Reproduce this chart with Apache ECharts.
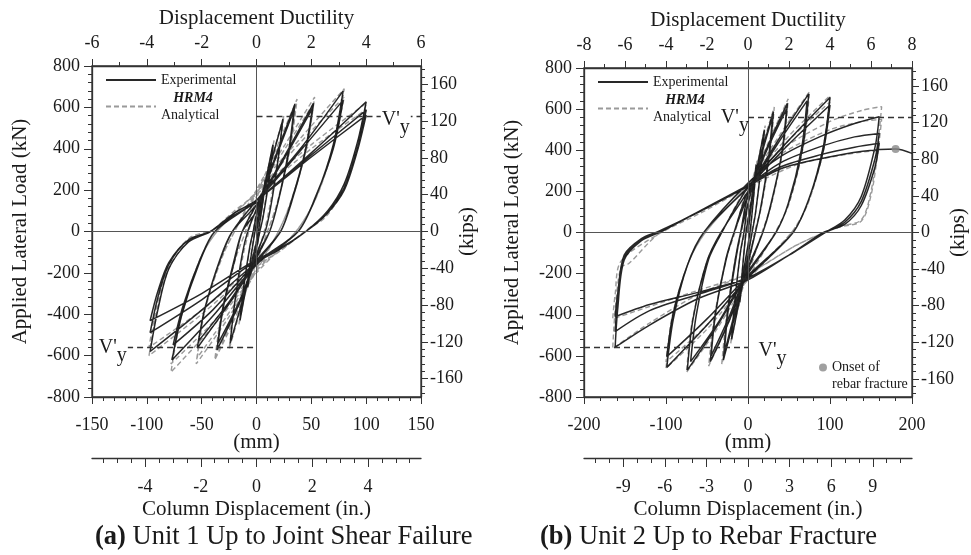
<!DOCTYPE html>
<html>
<head>
<meta charset="utf-8">
<script src="https://cdn.jsdelivr.net/npm/echarts@6/dist/echarts.min.js"></script>
<style>
  html, body { margin: 0; padding: 0; background: #fff; }
  #main { width: 971px; height: 555px; }
</style>
</head>
<body>
<div id="main"></div>
<script>
// ---- data (mm, kN) ----
// Unit 1, experimental
var u1ExpSmall = [[0,0],[4,120],[8,250],[6,150],[2,10],[0,-50],[-4,-140],[-8,-270],[-6,-160],[-2,-20],[0,40],[7,210],[15,420],[12,270],[6,70],[3,0],[0,-80],[-7,-210],[-15,-430],[-12,-280],[-6,-70],[-3,0],[0,80],[12,310],[24,540],[20,360],[13,120],[8,0],[0,-110],[-12,-320],[-24,-540],[-20,-350],[-13,-110],[-8,0]];
var u1ExpMu15 = [[0,110],[15,330],[35,615],[30,400],[20,150],[12,0],[0,-130],[-15,-340],[-36,-572],[-31,-380],[-20,-130],[-13,0],[0,100],[15,320],[34,585],[29,380],[19,130],[12,0],[0,-120],[-15,-330],[-35,-540],[-30,-360],[-19,-120],[-13,0]];
var u1ExpMu2 = [[0,130],[25,360],[52,620],[45,400],[33,160],[22,0],[0,-150],[-25,-350],[-54,-563],[-47,-370],[-33,-130],[-22,0],[0,130],[25,350],[51,595],[44,380],[32,150],[22,0],[0,-140],[-25,-340],[-53,-530],[-46,-350],[-32,-120],[-22,0]];
var u1ExpMu3 = [[0,150],[40,400],[79,680],[70,420],[55,180],[38,0],[0,-160],[-40,-410],[-77,-621],[-68,-400],[-52,-150],[-38,0],[0,150],[40,390],[79,635],[70,400],[54,170],[38,0],[0,-150],[-40,-380],[-76,-548],[-67,-360],[-51,-130],[-38,0]];
var u1ExpMu4 = [[0,150],[50,380],[100,627],[92,430],[80,230],[65,100],[45,0],[20,-90],[0,-150],[-50,-380],[-97,-580],[-90,-380],[-80,-180],[-62,-50],[-42,0],[-20,90],[0,150],[50,370],[100,587],[92,400],[80,210],[64,90],[45,0],[20,-90],[0,-140],[-50,-330],[-97,-489],[-90,-320],[-80,-160],[-62,-40],[-42,0],[-20,90],[0,150],[50,360],[100,563],[92,390],[80,200],[64,85],[45,0],[20,-85],[0,-135],[-50,-300],[-97,-431],[-90,-290],[-80,-150],[-62,-40],[-42,0],[-20,80],[0,140]];
// Unit 1, HRM4 analytical
var u1AnaSmall = [[0,0],[5,150],[9,270],[6,150],[2,20],[0,-40],[-5,-150],[-9,-280],[-6,-150],[-2,-10],[0,50],[8,240],[16,440],[12,280],[6,80],[3,0],[0,-90],[-8,-240],[-16,-450],[-12,-280],[-6,-80],[-3,0],[0,100],[13,340],[25,560],[20,370],[12,120],[7,0],[0,-120],[-13,-350],[-25,-570],[-20,-360],[-12,-110],[-7,0]];
var u1AnaMu15 = [[0,170],[18,400],[37,640],[31,410],[19,140],[10,0],[0,-150],[-18,-400],[-38,-620],[-32,-400],[-19,-130],[-10,0],[0,160],[18,380],[36,610],[30,390],[18,120],[10,0],[0,-140],[-18,-380],[-37,-600],[-31,-380],[-18,-110],[-10,0]];
var u1AnaMu2 = [[0,200],[26,420],[53,650],[46,410],[32,150],[20,0],[0,-190],[-26,-420],[-55,-640],[-48,-400],[-32,-130],[-20,0],[0,190],[26,400],[52,620],[45,390],[31,140],[20,0],[0,-180],[-26,-400],[-54,-610],[-47,-380],[-31,-120],[-20,0]];
var u1AnaMu3 = [[0,200],[40,450],[80,690],[71,430],[55,170],[36,0],[0,-200],[-40,-460],[-78,-680],[-69,-420],[-52,-140],[-36,0],[0,190],[40,430],[80,650],[70,410],[54,160],[36,0],[0,-190],[-40,-440],[-78,-640],[-68,-400],[-51,-130],[-36,0]];
var u1AnaMu4 = [[0,190],[50,420],[100,620],[92,420],[79,210],[63,80],[44,0],[20,-100],[0,-170],[-50,-400],[-98,-600],[-91,-390],[-80,-180],[-61,-40],[-42,0],[-20,100],[0,180],[50,400],[100,590],[92,400],[79,200],[63,70],[44,0],[20,-100],[0,-160],[-50,-380],[-98,-560],[-91,-360],[-80,-160],[-61,-30],[-42,0]];

// Unit 2, experimental
var u2ExpSmall = [[0,0],[5,170],[10,330],[7,180],[3,20],[0,-60],[-5,-180],[-10,-340],[-7,-190],[-3,-20],[0,60],[10,290],[20,500],[16,320],[9,90],[5,0],[0,-110],[-10,-320],[-20,-520],[-16,-330],[-9,-90],[-5,0]];
var u2ExpMu1 = [[0,140],[15,370],[31,588],[26,380],[16,130],[9,0],[0,-150],[-15,-390],[-30,-620],[-25,-390],[-15,-120],[-9,0],[0,140],[15,360],[30,565],[25,360],[15,110],[9,0],[0,-140],[-15,-370],[-29,-590],[-24,-370],[-14,-110],[-9,0]];
var u2ExpMu2 = [[0,180],[24,420],[48,628],[42,400],[28,140],[18,0],[0,-180],[-22,-420],[-46,-628],[-40,-400],[-27,-130],[-17,0],[0,180],[24,410],[47,600],[41,380],[27,120],[18,0],[0,-170],[-22,-400],[-45,-600],[-39,-380],[-26,-120],[-17,0]];
var u2ExpMu3 = [[0,200],[37,450],[74,674],[67,420],[50,150],[34,0],[0,-200],[-37,-450],[-74,-669],[-67,-420],[-50,-140],[-33,0],[0,200],[36,430],[72,640],[65,400],[49,140],[34,0],[0,-190],[-35,-430],[-70,-628],[-63,-400],[-48,-130],[-32,0]];
var u2ExpMu4 = [[0,220],[50,450],[100,657],[92,420],[75,170],[55,0],[0,-220],[-50,-450],[-99,-656],[-91,-420],[-74,-160],[-54,0],[0,220],[50,430],[100,620],[92,400],[74,160],[55,0],[0,-210],[-50,-420],[-99,-604],[-91,-390],[-73,-150],[-54,0]];
var u2ExpMu6 = [[0,240],[40,370],[90,470],[130,530],[160,563],[155,417],[138,174],[118,61],[94,0],[50,-110],[0,-230],[-60,-320],[-120,-450],[-162,-558],[-159,-377],[-151,-134],[-130,-40],[-106,4],[-57,109],[0,231],[40,340],[90,420],[130,465],[160,482],[155,360],[138,150],[118,50],[94,0],[50,-110],[0,-220],[-60,-300],[-120,-380],[-162,-482],[-159,-330],[-151,-120],[-130,-35],[-108,4],[-57,109],[0,230],[40,320],[90,380],[130,415],[160,434],[155,320],[138,130],[118,40],[92,0],[50,-110],[0,-220],[-60,-290],[-120,-350],[-162,-409],[-159,-300],[-151,-110],[-130,-30],[-110,4],[-57,105],[0,225]];
var u2ExpFinal = [[0,225],[40,310],[90,360],[140,395],[180,406],[200,385]];
// Unit 2, HRM4 analytical
var u2AnaSmall = [[0,0],[6,200],[11,350],[7,180],[3,20],[0,-70],[-6,-200],[-11,-360],[-7,-190],[-3,-20],[0,80],[11,320],[21,520],[16,330],[9,90],[4,0],[0,-120],[-11,-340],[-21,-540],[-16,-340],[-9,-90],[-4,0]];
var u2AnaMu1 = [[0,170],[16,400],[32,610],[27,390],[16,120],[8,0],[0,-170],[-16,-410],[-32,-640],[-26,-400],[-15,-120],[-8,0]];
var u2AnaMu2 = [[0,200],[25,440],[49,650],[43,410],[28,130],[17,0],[0,-200],[-24,-440],[-48,-650],[-41,-410],[-26,-120],[-16,0]];
var u2AnaMu3 = [[0,220],[38,470],[75,685],[68,430],[50,140],[33,0],[0,-220],[-38,-470],[-75,-680],[-68,-430],[-49,-130],[-32,0]];
var u2AnaMu4 = [[0,230],[50,470],[100,665],[92,420],[74,150],[53,0],[0,-230],[-50,-470],[-100,-660],[-92,-420],[-73,-150],[-52,0],[0,230],[50,450],[100,635],[92,400],[73,140],[53,0],[0,-220],[-50,-450],[-100,-630],[-92,-400],[-72,-140],[-52,0]];
var u2AnaMu6 = [[0,230],[40,400],[100,540],[140,595],[163,612],[158,420],[150,200],[138,61],[110,28],[60,-60],[0,-200],[-60,-300],[-120,-440],[-165,-565],[-162,-380],[-155,-170],[-145,-150],[-110,-10],[-60,100],[0,230],[40,380],[100,500],[140,540],[163,550],[158,380],[150,180],[138,55],[110,25],[60,-60],[0,-200],[-60,-280],[-120,-360],[-165,-420],[-162,-300],[-155,-140],[-110,-10],[-60,90],[0,220],[60,330],[120,380],[160,400]];

var onsetPoint = [[180, 406]];
var u1Vy = 558;
var u2Vy = 560;

// ---- tick labels ----
var kipsTicks = [-160, -120, -80, -40, 0, 40, 80, 120, 160];
var u1InchTicks = [-4, -2, 0, 2, 4];
var u2InchTicks = [-9, -6, -3, 0, 3, 6, 9];

var FONT = 'Liberation Serif';
var INK = '#1a1a1a';
var KN_PER_KIP = 4.448;
var MM_PER_IN = 25.4;
// unit 2's lower scale is drawn at ~13.9 px per division in the figure
var U2_IN_HALF = 11.83;

function range(a, b, step) {
    var out = [];
    for (var v = a; v <= b + 1e-9; v += step) out.push(+v.toFixed(3));
    return out;
}

var chart = echarts.init(document.getElementById('main'));

var lblStyle = { fontFamily: FONT, fontSize: 18, color: INK };
var nameStyle = { fontFamily: FONT, fontSize: 21, color: INK };
var lineCol = { onZero: false, lineStyle: { color: '#333', width: 1.3 } };

function mmAxis(grid, lim, step) {
    return {
        type: 'value', gridIndex: grid, position: 'bottom', min: -lim, max: lim, interval: step,
        axisLine: lineCol, splitLine: { show: false },
        axisTick: { length: 7, lineStyle: { color: '#333' } },
        minorTick: { show: true, splitNumber: 5, length: 4, lineStyle: { color: '#333' } },
        axisLabel: Object.assign({ margin: 19 }, lblStyle),
        name: '(mm)', nameLocation: 'middle', nameGap: 35, nameMoveOverlap: false, nameTextStyle: nameStyle
    };
}
function ductAxis(grid, lim) {
    return {
        type: 'value', gridIndex: grid, position: 'top', min: -lim, max: lim, interval: 2,
        axisLine: lineCol, splitLine: { show: false },
        axisTick: { length: 7, lineStyle: { color: '#333' } },
        minorTick: { show: true, splitNumber: 2, length: 4, lineStyle: { color: '#333' } },
        axisLabel: Object.assign({ margin: 14 }, lblStyle),
        name: 'Displacement Ductility', nameLocation: 'middle', nameGap: 37, nameMoveOverlap: false, nameTextStyle: nameStyle
    };
}
function inchAxis(grid, lim, ticks) {
    return {
        type: 'value', gridIndex: grid, position: 'bottom', offset: 61, min: -lim, max: lim,
        axisLine: lineCol, splitLine: { show: false },
        axisTick: { inside: false, length: 9, customValues: ticks, lineStyle: { color: '#333' } },
        axisLabel: Object.assign({ margin: 20, customValues: ticks }, lblStyle),
        name: 'Column Displacement (in.)', nameLocation: 'middle', nameGap: 41, nameMoveOverlap: false, nameTextStyle: nameStyle
    };
}
function inchMinorAxis(grid, lim, minor) {
    return {
        type: 'value', gridIndex: grid, position: 'bottom', offset: 61, min: -lim, max: lim,
        axisLine: { show: false, onZero: false }, splitLine: { show: false }, axisLabel: { show: false },
        axisTick: { inside: false, length: 5, customValues: minor, lineStyle: { color: '#333' } }
    };
}
function knAxis(grid) {
    return {
        type: 'value', gridIndex: grid, position: 'left', min: -800, max: 800, interval: 200,
        axisLine: lineCol, splitLine: { show: false },
        axisTick: { length: 8, lineStyle: { color: '#333' } },
        minorTick: { show: true, splitNumber: 5, length: 4, lineStyle: { color: '#333' } },
        axisLabel: Object.assign({ margin: 12 }, lblStyle),
        name: 'Applied Lateral Load (kN)', nameLocation: 'middle', nameGap: 61, nameRotate: 90,
        nameMoveOverlap: false, nameTextStyle: nameStyle
    };
}
function kipsAxis(grid) {
    var lim = 800 / KN_PER_KIP;
    return {
        type: 'value', gridIndex: grid, position: 'right', min: -lim, max: lim,
        axisLine: lineCol, splitLine: { show: false },
        axisTick: { length: 7, customValues: kipsTicks, lineStyle: { color: '#333' } },
        axisLabel: Object.assign({ margin: 9, customValues: kipsTicks }, lblStyle),
        name: '(kips)', nameLocation: 'middle', nameGap: 36, nameRotate: 90,
        nameMoveOverlap: false, nameTextStyle: nameStyle
    };
}
function kipsMinorAxis(grid) {
    var lim = 800 / KN_PER_KIP;
    return {
        type: 'value', gridIndex: grid, position: 'right', min: -lim, max: lim,
        axisLine: { show: false, onZero: false }, splitLine: { show: false }, axisLabel: { show: false },
        axisTick: { length: 4, customValues: range(-176, 176, 8), lineStyle: { color: '#333' } }
    };
}

function vyLabel(coord, bg) {
    return {
        coord: coord, symbol: 'rect', symbolSize: 1, itemStyle: { color: 'rgba(0,0,0,0)' },
        label: {
            show: true, position: 'inside', formatter: "{v|V'}{s|y}", backgroundColor: bg, padding: [0, 1],
            rich: {
                v: { fontFamily: FONT, fontSize: 20, color: INK, verticalAlign: 'top' },
                s: { fontFamily: FONT, fontSize: 20, color: INK, verticalAlign: 'top', padding: [8, 0, 0, 0] }
            }
        }
    };
}
var zeroLines = [
    { xAxis: 0, lineStyle: { color: '#555', width: 1, type: 'solid' } },
    { yAxis: 0, lineStyle: { color: '#555', width: 1, type: 'solid' } }
];
var dashRef = { color: '#333', width: 1.4, type: [6, 4] };

var expStyle = { color: '#111', width: 1.5, opacity: 0.9 };
var anaStyle = { color: '#9a9a9a', width: 1.4, type: [5, 3] };

var series = [
    {
        name: 'Analytical', type: 'line', xAxisIndex: 0, yAxisIndex: 0, z: 2,
        data: [].concat(u1AnaSmall, u1AnaMu15, u1AnaMu2, u1AnaMu3, u1AnaMu4),
        symbol: 'none', smooth: 0.3, lineStyle: anaStyle, itemStyle: { color: '#9a9a9a' }
    },
    {
        name: 'Experimental', type: 'line', xAxisIndex: 0, yAxisIndex: 0, z: 3,
        data: [].concat(u1ExpSmall, u1ExpMu15, u1ExpMu2, u1ExpMu3, u1ExpMu4),
        symbol: 'none', smooth: 0.3, lineStyle: expStyle, itemStyle: { color: '#111' },
        markLine: {
            silent: true, symbol: ['none', 'none'], label: { show: false }, animation: false,
            data: zeroLines.concat([
                [{ coord: [0, u1Vy], lineStyle: dashRef }, { coord: [150, u1Vy] }],
                [{ coord: [-118, -u1Vy], lineStyle: dashRef }, { coord: [0, -u1Vy] }]
            ])
        },
        markPoint: { silent: true, animation: false, data: [vyLabel([127, 522], '#fff'), vyLabel([-131, -580], '#fff')] }
    },
    {
        name: 'Analytical', type: 'line', xAxisIndex: 4, yAxisIndex: 3, z: 2,
        data: [].concat(u2AnaSmall, u2AnaMu1, u2AnaMu2, u2AnaMu3, u2AnaMu4, u2AnaMu6),
        symbol: 'none', smooth: 0.3, lineStyle: anaStyle, itemStyle: { color: '#9a9a9a' }
    },
    {
        name: 'Experimental', type: 'line', xAxisIndex: 4, yAxisIndex: 3, z: 3,
        data: [].concat(u2ExpSmall, u2ExpMu1, u2ExpMu2, u2ExpMu3, u2ExpMu4, u2ExpMu6, u2ExpFinal),
        symbol: 'none', smooth: 0.3, lineStyle: expStyle, itemStyle: { color: '#111' },
        markLine: {
            silent: true, symbol: ['none', 'none'], label: { show: false }, animation: false,
            data: zeroLines.concat([
                [{ coord: [0, u2Vy], lineStyle: dashRef }, { coord: [200, u2Vy] }],
                [{ coord: [-200, -u2Vy], lineStyle: dashRef }, { coord: [0, -u2Vy] }]
            ])
        },
        markPoint: { silent: true, animation: false, data: [vyLabel([-16, 537], 'transparent'), vyLabel([30, -596], 'transparent')] }
    },
    {
        name: 'Onset of rebar fracture', type: 'scatter', xAxisIndex: 4, yAxisIndex: 3, z: 4,
        data: onsetPoint, symbol: 'circle', symbolSize: 8, itemStyle: { color: '#888' }
    }
];

var legendText = {
    fontFamily: FONT, fontSize: 14, color: INK,
    rich: {
        n: { fontFamily: FONT, fontSize: 14, color: INK, lineHeight: 17 },
        h: { fontFamily: FONT, fontSize: 14, color: INK, fontWeight: 'bold', fontStyle: 'italic', width: 64, align: 'center', lineHeight: 17 }
    }
};
function legendFmt(name) {
    return name === 'Analytical' ? '{h|HRM4}\n{n|Analytical}' : '{n|' + name + '}';
}
// dot drawn in the upper part of a tall icon box so it lines up with the first text line
var onsetIcon = 'path://M0,0L0.01,0L0,0.01Z M4,4.5A4,4 0 1,1 3.99,4.5Z M0,34L0.01,34L0,33.99Z';

chart.setOption({
    animation: false,
    backgroundColor: '#fff',
    title: [
        {
            left: 90, top: 519, text: '{b|(a)} Unit 1 Up to Joint Shear Failure',
            textStyle: { fontFamily: FONT, fontSize: 26.5, fontWeight: 'normal', color: INK,
                rich: { b: { fontFamily: FONT, fontSize: 26.5, fontWeight: 'bold', color: INK } } }
        },
        {
            left: 535, top: 519, text: '{b|(b)} Unit 2 Up to Rebar Fracture',
            textStyle: { fontFamily: FONT, fontSize: 26.5, fontWeight: 'normal', color: INK,
                rich: { b: { fontFamily: FONT, fontSize: 26.5, fontWeight: 'bold', color: INK } } }
        }
    ],
    legend: [
        {
            left: 100, top: 68, orient: 'vertical', itemWidth: 50, itemHeight: 14, itemGap: 4,
            itemStyle: { opacity: 0 },
            data: ['Experimental', 'Analytical'], formatter: legendFmt, textStyle: legendText, selectedMode: false
        },
        {
            left: 592, top: 70, orient: 'vertical', itemWidth: 50, itemHeight: 14, itemGap: 4,
            itemStyle: { opacity: 0 },
            data: ['Experimental', 'Analytical'], formatter: legendFmt, textStyle: legendText, selectedMode: false
        },
        {
            left: 814, top: 354, orient: 'vertical', itemWidth: 8, itemHeight: 34, selectedMode: false,
            data: [{ name: 'Onset of rebar fracture', icon: onsetIcon }],
            formatter: function () { return 'Onset of\nrebar fracture'; },
            textStyle: { fontFamily: FONT, fontSize: 14, color: INK, lineHeight: 17 }
        }
    ],
    grid: [
        { left: 92, top: 66, width: 329, height: 331, show: true, borderColor: '#333', borderWidth: 1.3, backgroundColor: 'transparent' },
        { left: 584, top: 68, width: 328, height: 329, show: true, borderColor: '#333', borderWidth: 1.3, backgroundColor: 'transparent' }
    ],
    xAxis: [
        mmAxis(0, 150, 50),
        ductAxis(0, 6),
        inchAxis(0, 150 / MM_PER_IN, u1InchTicks),
        inchMinorAxis(0, 150 / MM_PER_IN, range(-5.5, 5.5, 0.5)),
        mmAxis(1, 200, 100),
        ductAxis(1, 8),
        inchAxis(1, U2_IN_HALF, u2InchTicks),
        inchMinorAxis(1, U2_IN_HALF, range(-11, 11, 1))
    ],
    yAxis: [
        knAxis(0), kipsAxis(0), kipsMinorAxis(0),
        knAxis(1), kipsAxis(1), kipsMinorAxis(1)
    ],
    series: series
});
</script>
</body>
</html>
